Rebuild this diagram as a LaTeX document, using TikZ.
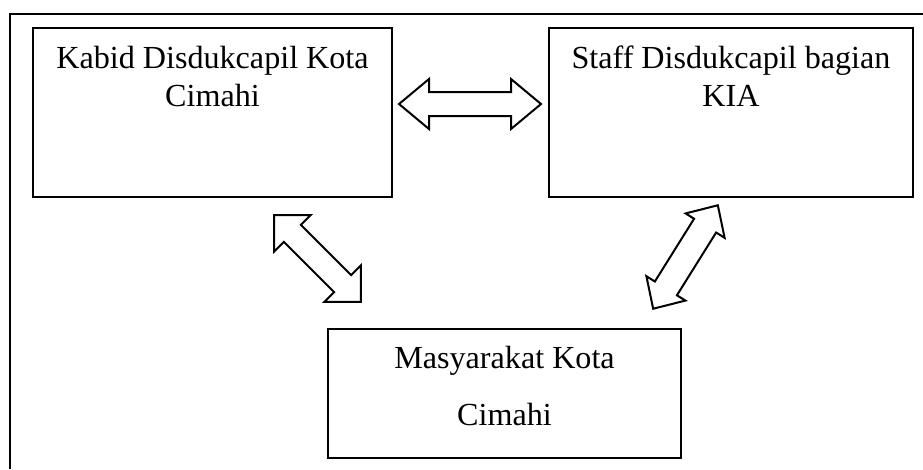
\documentclass[tikz,border=0pt]{standalone}
\usepackage{fontspec}
\setmainfont{Liberation Serif}
\tikzset{
  box/.style={draw=black, line width=0.9pt, rectangle, inner sep=0pt},
  txt/.style={anchor=base, inner sep=0pt, font=\fontsize{24.1}{28}\selectfont},
  frameline/.style={line width=1.6pt},
  arrowline/.style={draw=black, line width=1.5pt, fill=white, line join=miter},
  pics/dblarr/.style n args={4}{code={
    \draw[arrowline] (-#1/2,0) -- (-#1/2+#2,#3) -- (-#1/2+#2,#4) -- (#1/2-#2,#4)
      -- (#1/2-#2,#3) -- (#1/2,0) -- (#1/2-#2,-#3) -- (#1/2-#2,-#4)
      -- (-#1/2+#2,-#4) -- (-#1/2+#2,-#3) -- cycle;
  }}
}
\begin{document}
\begin{tikzpicture}[x=0.75pt,y=-0.75pt]
\useasboundingbox (0,0) rectangle (923,469);
% outer frame (left and top edges)
\coordinate (fbl) at (10,469);
\coordinate (ftl) at (10,14.3);
\coordinate (ftr) at (923,14.3);
\draw[frameline] (fbl) -- (ftl) -- (ftr);
% boxes
\node[box, minimum width=269.25pt, minimum height=126.75pt] (kabid) at (212.5,112.5) {};
\node[box, minimum width=273pt, minimum height=126.75pt] (staff) at (731,112.5) {};
\node[box, minimum width=264.75pt, minimum height=96.75pt] (masy) at (504.5,393.5) {};
% texts
\node[txt] (kabid1) at (212.5,68) {Kabid Disdukcapil Kota};
\node[txt] (kabid2) at (212.5,106) {Cimahi};
\node[txt] (staff1) at (731,68) {Staff Disdukcapil bagian};
\node[txt] (staff2) at (731,106) {KIA};
\node[txt] (masy1) at (504.5,368) {Masyarakat Kota};
\node[txt] (masy2) at (504.5,425) {Cimahi};
% block double arrows
\pic (harr) at (470,104) {dblarr={142}{30}{25}{12}};
\pic[rotate=-45] (larr) at (317.5,258.5) {dblarr={123}{26}{26}{12}};
\pic[rotate=58] (rarr) at (685.5,257) {dblarr={122}{24}{23}{13}};
\end{tikzpicture}
\end{document}
